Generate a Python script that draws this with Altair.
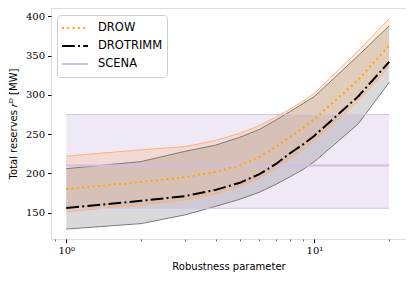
import altair as alt
import pandas as pd

# Data
x_vals = [1, 2, 3, 4, 5, 6, 7, 8, 9, 10, 15, 20]
drow = [180, 189, 195, 202, 210, 221, 234, 247, 258, 269, 319, 363]
drow_lo = [151, 160, 166, 174, 183, 194, 206, 219, 231, 242, 292, 336]
drow_hi = [222, 230, 234, 242, 251, 261, 272, 282, 292, 302, 356, 397]
trimm = [156, 165, 171, 179, 188, 199, 212, 226, 237, 248, 298, 342]
trimm_lo = [129, 136, 147, 158, 167, 176, 186, 196, 205, 215, 263, 316]
trimm_hi = [206, 215, 228, 236, 246, 256, 268, 279, 289, 298, 350, 388]
scena_x = [1, 20]
scena_mean = [210, 210]
scena_lo = [155.5, 155.5]
scena_hi = [275, 275]

series_names = ["DROW", "DROTRIMM", "SCENA"]
major_ticks = [1, 10]
minor_ticks = [0.9, 2, 3, 4, 5, 6, 7, 8, 9, 20]
y_ticks = [150, 200, 250, 300, 350, 400]

bands = pd.DataFrame(
    [{"x": x, "lo": l, "hi": h, "band": "DROTRIMM"} for x, l, h in zip(x_vals, trimm_lo, trimm_hi)]
    + [{"x": x, "lo": l, "hi": h, "band": "DROW"} for x, l, h in zip(x_vals, drow_lo, drow_hi)]
)
scena_band = pd.DataFrame({"x": scena_x, "lo": scena_lo, "hi": scena_hi})

edges = pd.DataFrame(
    [{"x": x, "y": v, "edge": "t_lo", "band": "DROTRIMM"} for x, v in zip(x_vals, trimm_lo)]
    + [{"x": x, "y": v, "edge": "t_hi", "band": "DROTRIMM"} for x, v in zip(x_vals, trimm_hi)]
    + [{"x": x, "y": v, "edge": "d_lo", "band": "DROW"} for x, v in zip(x_vals, drow_lo)]
    + [{"x": x, "y": v, "edge": "d_hi", "band": "DROW"} for x, v in zip(x_vals, drow_hi)]
    + [{"x": x, "y": v, "edge": "s_lo", "band": "SCENA"} for x, v in zip(scena_x, scena_lo)]
    + [{"x": x, "y": v, "edge": "s_hi", "band": "SCENA"} for x, v in zip(scena_x, scena_hi)]
)

lines = pd.DataFrame(
    [{"x": x, "y": v, "series": "SCENA"} for x, v in zip(scena_x, scena_mean)]
    + [{"x": x, "y": v, "series": "DROTRIMM"} for x, v in zip(x_vals, trimm)]
    + [{"x": x, "y": v, "series": "DROW"} for x, v in zip(x_vals, drow)]
)

xscale = alt.Scale(type="log", domain=[0.868, 23.38], nice=False)
yscale = alt.Scale(domain=[116.4, 410.7], nice=False, zero=False)

x_major = alt.X(
    "x:Q", scale=xscale, title="Robustness parameter",
    axis=alt.Axis(values=major_ticks, orient="bottom", grid=False, domain=False,
                  labelExpr="datum.value == 1 ? '10⁰' : '10¹'",
                  labelFont="DejaVu Serif", labelFontSize=10, tickSize=3.5,
                  tickColor="black", labelColor="black", titleFont="DejaVu Sans",
                  titleFontSize=10, titleFontWeight="normal", titleColor="black",
                  titlePadding=6, labelPadding=3, labelFlush=False),
)
x_minor = alt.X(
    "x:Q", scale=xscale,
    axis=alt.Axis(values=minor_ticks, orient="bottom", grid=False, domain=False,
                  labels=False, title=None, tickSize=2, tickColor="black", tickWidth=0.6),
)
x_none = alt.X("x:Q", scale=xscale, axis=None)
y_enc = alt.Y(
    "lo:Q", scale=yscale, title="Total reserves 𝑟ᴰ [MW]",
    axis=alt.Axis(values=y_ticks, grid=False, domain=False, labelFont="DejaVu Serif",
                  labelFontSize=10, tickSize=3.5, tickColor="black", labelColor="black",
                  titleFont="DejaVu Sans", titleFontSize=10, titleFontWeight="normal",
                  titleColor="black", titlePadding=7, labelPadding=3),
)

scena_area = alt.Chart(scena_band).mark_area(color="#9467bd", opacity=0.15).encode(
    x=x_minor, y=y_enc, y2="hi:Q"
)

band_area = alt.Chart(bands).mark_area().encode(
    x=x_major,
    y=alt.Y("lo:Q", scale=yscale),
    y2="hi:Q",
    color=alt.Color("band:N", scale=alt.Scale(domain=["DROTRIMM", "DROW"], range=["#808080", "#ff9f4a"]), legend=None),
    opacity=alt.Opacity("band:N", scale=alt.Scale(domain=["DROTRIMM", "DROW"], range=[0.3, 0.2]), legend=None),
)

edge_lines = alt.Chart(edges).mark_line(strokeWidth=1).encode(
    x=x_none,
    y=alt.Y("y:Q", scale=yscale),
    detail="edge:N",
    color=alt.Color("band:N", scale=alt.Scale(domain=["DROTRIMM", "DROW", "SCENA"], range=["#7a7a7a", "#ffb07a", "#d9c4e8"]), legend=None),
)

mean_lines = alt.Chart(lines).mark_line(strokeWidth=2).encode(
    x=x_none,
    y=alt.Y("y:Q", scale=yscale),
    color=alt.Color("series:N", sort=series_names,
                    scale=alt.Scale(domain=series_names, range=["#ffa500", "black", "#d3bde3"]),
                    legend=alt.Legend(title=None, orient="none", legendX=6, legendY=7,
                                      symbolType="stroke", symbolSize=676, symbolStrokeWidth=2,
                                      clipHeight=18, labelFont="DejaVu Sans", labelFontSize=11.5,
                                      labelColor="black", labelOffset=9, padding=4,
                                      fillColor="white", strokeColor="#cccccc",
                                      cornerRadius=3, rowPadding=0)),
    strokeDash=alt.StrokeDash("series:N", sort=series_names,
                              scale=alt.Scale(domain=series_names,
                                              range=[[2, 3.3], [12.8, 3.2, 2, 3.2], [1, 0]])),
    order=alt.Order("series:N"),
)

chart = alt.layer(scena_area, band_area, edge_lines, mean_lines).resolve_axis(
    x="independent"
).resolve_scale(
    color="independent", opacity="independent", strokeDash="independent"
).properties(
    width=355, height=231,
    padding={"left": 0, "top": 0, "right": 0, "bottom": 0},
).configure_view(stroke="black", strokeWidth=1).configure(background="white")

chart.save("out.html", embed_options={"renderer": "svg", "actions": False})
